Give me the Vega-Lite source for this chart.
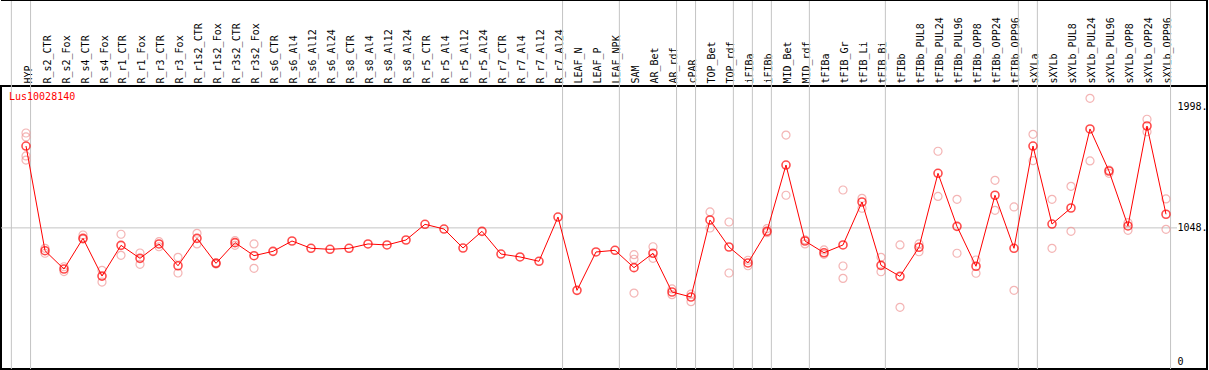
{
  "$schema": "https://vega.github.io/schema/vega-lite/v6.json",
  "width": 1206,
  "height": 283,
  "autosize": {"type": "none"},
  "padding": {"left": 1, "top": 86, "right": 2, "bottom": 1},
  "background": "white",
  "config": {"view": {"stroke": "black", "strokeWidth": 2}, "font": "DejaVu Sans Mono"},
  "datasets": {
    "means": [
      {"i": 0, "name": "HYP", "value": 1690},
      {"i": 1, "name": "R_s2_CTR", "value": 869},
      {"i": 2, "name": "R_s2_Fox", "value": 725},
      {"i": 3, "name": "R_s4_CTR", "value": 966},
      {"i": 4, "name": "R_s4_Fox", "value": 670},
      {"i": 5, "name": "R_r1_CTR", "value": 911},
      {"i": 6, "name": "R_r1_Fox", "value": 809},
      {"i": 7, "name": "R_r3_CTR", "value": 922},
      {"i": 8, "name": "R_r3_Fox", "value": 751},
      {"i": 9, "name": "R_r1s2_CTR", "value": 966},
      {"i": 10, "name": "R_r1s2_Fox", "value": 770},
      {"i": 11, "name": "R_r3s2_CTR", "value": 932},
      {"i": 12, "name": "R_r3s2_Fox", "value": 830},
      {"i": 13, "name": "R_s6_CTR", "value": 864},
      {"i": 14, "name": "R_s6_Al4", "value": 945},
      {"i": 15, "name": "R_s6_Al12", "value": 888},
      {"i": 16, "name": "R_s6_Al24", "value": 880},
      {"i": 17, "name": "R_s8_CTR", "value": 888},
      {"i": 18, "name": "R_s8_Al4", "value": 922},
      {"i": 19, "name": "R_s8_Al12", "value": 914},
      {"i": 20, "name": "R_s8_Al24", "value": 953},
      {"i": 21, "name": "R_r5_CTR", "value": 1076},
      {"i": 22, "name": "R_r5_Al4", "value": 1039},
      {"i": 23, "name": "R_r5_Al12", "value": 890},
      {"i": 24, "name": "R_r5_Al24", "value": 1021},
      {"i": 25, "name": "R_r7_CTR", "value": 843},
      {"i": 26, "name": "R_r7_Al4", "value": 820},
      {"i": 27, "name": "R_r7_Al12", "value": 786},
      {"i": 28, "name": "R_r7_Al24", "value": 1133},
      {"i": 29, "name": "LEAF_N", "value": 558},
      {"i": 30, "name": "LEAF_P", "value": 859},
      {"i": 31, "name": "LEAF_NPK", "value": 872},
      {"i": 32, "name": "SAM", "value": 736},
      {"i": 33, "name": "AR_Bet", "value": 849},
      {"i": 34, "name": "AR_rdf", "value": 545},
      {"i": 35, "name": "cPAR", "value": 506},
      {"i": 36, "name": "TOP_Bet", "value": 1110},
      {"i": 37, "name": "TOP_rdf", "value": 898},
      {"i": 38, "name": "iFIBa", "value": 773},
      {"i": 39, "name": "iFIBb", "value": 1021},
      {"i": 40, "name": "MID_Bet", "value": 1541},
      {"i": 41, "name": "MID_rdf", "value": 945},
      {"i": 42, "name": "tFIBa", "value": 853},
      {"i": 43, "name": "tFIB_Gr", "value": 914},
      {"i": 44, "name": "tFIB_Li", "value": 1251},
      {"i": 45, "name": "tFIB_Bi", "value": 754},
      {"i": 46, "name": "tFIBb", "value": 668},
      {"i": 47, "name": "tFIBb_PUL8", "value": 896},
      {"i": 48, "name": "tFIBb_PUL24", "value": 1476},
      {"i": 49, "name": "tFIBb_PUL96", "value": 1060},
      {"i": 50, "name": "tFIBb_OPP8", "value": 747},
      {"i": 51, "name": "tFIBb_OPP24", "value": 1304},
      {"i": 52, "name": "tFIBb_OPP96", "value": 888},
      {"i": 53, "name": "sXYLa", "value": 1690},
      {"i": 54, "name": "sXYLb", "value": 1078},
      {"i": 55, "name": "sXYLb_PUL8", "value": 1204},
      {"i": 56, "name": "sXYLb_PUL24", "value": 1824},
      {"i": 57, "name": "sXYLb_PUL96", "value": 1494},
      {"i": 58, "name": "sXYLb_OPP8", "value": 1063},
      {"i": 59, "name": "sXYLb_OPP24", "value": 1847},
      {"i": 60, "name": "sXYLb_OPP96", "value": 1155}
    ],
    "reps": [
      {"i": 0, "value": 1792}, {"i": 0, "value": 1761}, {"i": 0, "value": 1612}, {"i": 0, "value": 1580},
      {"i": 1, "value": 888}, {"i": 1, "value": 849},
      {"i": 2, "value": 743}, {"i": 2, "value": 705},
      {"i": 3, "value": 992}, {"i": 3, "value": 960},
      {"i": 4, "value": 715}, {"i": 4, "value": 623},
      {"i": 5, "value": 998}, {"i": 5, "value": 833},
      {"i": 6, "value": 851}, {"i": 6, "value": 762},
      {"i": 7, "value": 940}, {"i": 7, "value": 900},
      {"i": 8, "value": 817}, {"i": 8, "value": 694},
      {"i": 9, "value": 1005}, {"i": 9, "value": 922},
      {"i": 10, "value": 775}, {"i": 10, "value": 765},
      {"i": 11, "value": 948}, {"i": 11, "value": 911},
      {"i": 12, "value": 922}, {"i": 12, "value": 731},
      {"i": 32, "value": 838}, {"i": 32, "value": 802}, {"i": 32, "value": 537},
      {"i": 33, "value": 900}, {"i": 33, "value": 809},
      {"i": 34, "value": 569}, {"i": 34, "value": 524},
      {"i": 35, "value": 529}, {"i": 35, "value": 469},
      {"i": 36, "value": 1173}, {"i": 36, "value": 1047},
      {"i": 37, "value": 1094}, {"i": 37, "value": 694},
      {"i": 38, "value": 794}, {"i": 38, "value": 751},
      {"i": 39, "value": 1042}, {"i": 39, "value": 1010},
      {"i": 40, "value": 1776}, {"i": 40, "value": 1304},
      {"i": 41, "value": 955}, {"i": 41, "value": 922},
      {"i": 42, "value": 875}, {"i": 42, "value": 841},
      {"i": 43, "value": 1345}, {"i": 43, "value": 749}, {"i": 43, "value": 652},
      {"i": 44, "value": 1280}, {"i": 44, "value": 1202},
      {"i": 45, "value": 817}, {"i": 45, "value": 704},
      {"i": 46, "value": 914}, {"i": 46, "value": 425},
      {"i": 47, "value": 922}, {"i": 47, "value": 861},
      {"i": 48, "value": 1649}, {"i": 48, "value": 1295},
      {"i": 49, "value": 1272}, {"i": 49, "value": 849},
      {"i": 50, "value": 796}, {"i": 50, "value": 692},
      {"i": 51, "value": 1421}, {"i": 51, "value": 1186},
      {"i": 52, "value": 1212}, {"i": 52, "value": 558},
      {"i": 53, "value": 1782}, {"i": 53, "value": 1575},
      {"i": 54, "value": 1272}, {"i": 54, "value": 888},
      {"i": 55, "value": 1374}, {"i": 55, "value": 1021},
      {"i": 56, "value": 2064}, {"i": 56, "value": 1573},
      {"i": 57, "value": 1502}, {"i": 57, "value": 1476},
      {"i": 58, "value": 1089}, {"i": 58, "value": 1029},
      {"i": 59, "value": 1900}, {"i": 59, "value": 1802},
      {"i": 60, "value": 1275}, {"i": 60, "value": 1037}
    ],
    "bounds": [
      {"b": -0.77}, {"b": 0.24}, {"b": 28.24}, {"b": 31.23}, {"b": 34.24}, {"b": 35.24},
      {"b": 37.23}, {"b": 38.23}, {"b": 39.23}, {"b": 41.23}, {"b": 45.23}, {"b": 52.23},
      {"b": 53.23}, {"b": 60.24}
    ]
  },
  "encoding": {
    "x": {
      "type": "quantitative",
      "scale": {"domain": [-1.3158, 62.158], "nice": false, "zero": false},
      "axis": {
        "orient": "top", "title": null, "grid": false, "ticks": false, "domain": false,
        "values": [0,1,2,3,4,5,6,7,8,9,10,11,12,13,14,15,16,17,18,19,20,21,22,23,24,25,26,27,28,29,30,31,32,33,34,35,36,37,38,39,40,41,42,43,44,45,46,47,48,49,50,51,52,53,54,55,56,57,58,59,60],
        "labelExpr": "['HYP','R_s2_CTR','R_s2_Fox','R_s4_CTR','R_s4_Fox','R_r1_CTR','R_r1_Fox','R_r3_CTR','R_r3_Fox','R_r1s2_CTR','R_r1s2_Fox','R_r3s2_CTR','R_r3s2_Fox','R_s6_CTR','R_s6_Al4','R_s6_Al12','R_s6_Al24','R_s8_CTR','R_s8_Al4','R_s8_Al12','R_s8_Al24','R_r5_CTR','R_r5_Al4','R_r5_Al12','R_r5_Al24','R_r7_CTR','R_r7_Al4','R_r7_Al12','R_r7_Al24','LEAF_N','LEAF_P','LEAF_NPK','SAM','AR_Bet','AR_rdf','cPAR','TOP_Bet','TOP_rdf','iFIBa','iFIBb','MID_Bet','MID_rdf','tFIBa','tFIB_Gr','tFIB_Li','tFIB_Bi','tFIBb','tFIBb_PUL8','tFIBb_PUL24','tFIBb_PUL96','tFIBb_OPP8','tFIBb_OPP24','tFIBb_OPP96','sXYLa','sXYLb','sXYLb_PUL8','sXYLb_PUL24','sXYLb_PUL96','sXYLb_OPP8','sXYLb_OPP24','sXYLb_OPP96'][datum.value]",
        "labelAngle": 270, "labelAlign": "left", "labelBaseline": "middle", "labelOffset": 2,
        "labelPadding": 3, "labelFont": "DejaVu Sans Mono", "labelFontSize": 10, "labelColor": "black",
        "labelOverlap": false, "labelFlush": false, "labelBound": false
      }
    },
    "y": {
      "type": "quantitative",
      "scale": {"domain": [-58.8, 2160.8], "nice": false, "zero": false},
      "axis": {
        "orient": "right", "title": null, "grid": false, "ticks": false, "domain": false,
        "values": [0, 1048, 1998], "offset": -30,
        "labelExpr": "datum.value == 0 ? '0' : datum.value + '.'",
        "labelAlign": "left", "labelBaseline": "middle", "labelPadding": 0,
        "labelFont": "DejaVu Sans Mono", "labelFontSize": 10, "labelColor": "black",
        "labelOverlap": false, "labelFlush": false, "labelBound": false
      }
    }
  },
  "layer": [
    {
      "data": {"name": "bounds"},
      "mark": {"type": "rule", "color": "#c4c4c4", "strokeWidth": 1},
      "encoding": {
        "x": {"field": "b"},
        "y": {"datum": -58.8},
        "y2": {"datum": 2835}
      }
    },
    {
      "data": {"values": [{}]},
      "mark": {"type": "rule", "color": "#c4c4c4", "strokeWidth": 1},
      "encoding": {
        "x": {"datum": -1.3158},
        "x2": {"datum": 60.58},
        "y": {"datum": 1048}
      }
    },
    {
      "data": {"values": [{}]},
      "mark": {"type": "rule", "color": "black", "strokeWidth": 2},
      "encoding": {
        "x": {"datum": -1.3158},
        "x2": {"datum": 62.158},
        "y": {"datum": 2835}
      }
    },
    {
      "data": {"values": [{}]},
      "mark": {"type": "rule", "color": "black", "strokeWidth": 2},
      "encoding": {
        "x": {"datum": 62.158},
        "y": {"datum": 2160.8},
        "y2": {"datum": 2835}
      }
    },
    {
      "data": {"name": "reps"},
      "mark": {"type": "point", "shape": "circle", "filled": false, "color": "#f09696", "size": 64, "strokeWidth": 1.2},
      "encoding": {
        "x": {"field": "i"},
        "y": {"field": "value"}
      }
    },
    {
      "data": {"name": "means"},
      "mark": {"type": "line", "color": "#ff0000", "strokeWidth": 1},
      "encoding": {
        "x": {"field": "i"},
        "y": {"field": "value"}
      }
    },
    {
      "data": {"name": "means"},
      "mark": {"type": "point", "shape": "circle", "filled": false, "color": "#ff0000", "size": 64, "strokeWidth": 1.6},
      "encoding": {
        "x": {"field": "i"},
        "y": {"field": "value"}
      }
    },
    {
      "data": {"values": [{"label": "Lus10028140"}]},
      "mark": {"type": "text", "color": "#ff0000", "align": "left", "baseline": "middle", "font": "DejaVu Sans Mono", "fontSize": 10},
      "encoding": {
        "x": {"datum": -0.895},
        "y": {"datum": 2074},
        "text": {"field": "label"}
      }
    }
  ]
}
